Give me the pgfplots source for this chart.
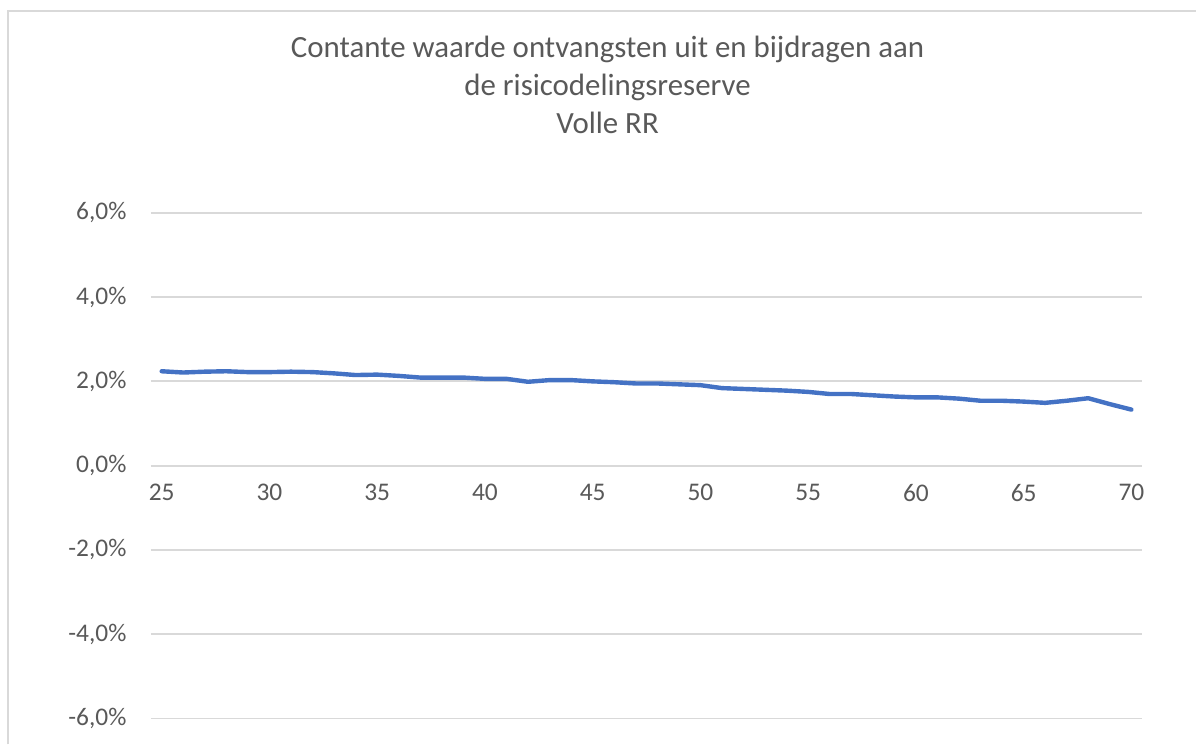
\documentclass[border=0pt]{standalone}
\usepackage{fontspec}
\setmainfont{Carlito}
\usepackage{pgfplots}
\pgfplotsset{compat=1.18}
\definecolor{txt}{HTML}{595959}
\definecolor{gridc}{HTML}{D9D9D9}
\definecolor{ser}{HTML}{4472C4}

\begin{document}
\begin{tikzpicture}[x=1bp,y=1bp]
\path (0,0) rectangle (1197,745);
% chart border (cut off at right and bottom)
\draw[gridc, line width=1.8bp] (8,0) -- (8,734) -- (1197,734);
\node[anchor=base, font=\fontsize{31}{36}\selectfont, text=txt] at (608,687) {Contante waarde ontvangsten uit en bijdragen aan};
\node[anchor=base, font=\fontsize{31}{36}\selectfont, text=txt] at (608,649) {de risicodelingsreserve};
\node[anchor=base, font=\fontsize{31}{36}\selectfont, text=txt] at (608,611) {Volle RR};
\begin{axis}[
  at={(151bp,26bp)}, anchor=south west,
  scale only axis, width=992bp, height=506bp,
  xmin=24.5, xmax=70.5, ymin=-6, ymax=6,
  xtick={25,30,...,70}, ytick={-6,-4,...,6},
  axis x line*=middle, axis y line*=left,
  x axis line style={draw=none}, y axis line style={draw=none},
  major tick length=0,
  ymajorgrids, grid style={gridc, line width=1.8bp},
  tick label style={font=\fontsize{25.5}{30}\selectfont, text=txt},
  /pgf/number format/assume math mode=true,
  xticklabel style={yshift=-15bp},
  yticklabel style={xshift=-21bp},
  yticklabel={\pgfmathprintnumber[fixed,fixed zerofill,precision=1,use comma]{\tick}\%},
  clip=false,
]
\addplot[ser, line width=4.4bp, line join=round, line cap=round] coordinates {
(25,2.24) (26,2.21) (27,2.23) (28,2.24) (29,2.22) (30,2.22)
(31,2.23) (32,2.22) (33,2.19) (34,2.15) (35,2.16) (36,2.13)
(37,2.09) (38,2.09) (39,2.09) (40,2.06) (41,2.06) (42,1.99)
(43,2.03) (44,2.03) (45,2.00) (46,1.98) (47,1.95) (48,1.95)
(49,1.93) (50,1.91) (51,1.84) (52,1.82) (53,1.80) (54,1.78)
(55,1.75) (56,1.70) (57,1.70) (58,1.67) (59,1.64) (60,1.62)
(61,1.62) (62,1.59) (63,1.54) (64,1.54) (65,1.52) (66,1.49)
(67,1.54) (68,1.60) (69,1.46) (70,1.33)
};
\end{axis}
\end{tikzpicture}
\end{document}
